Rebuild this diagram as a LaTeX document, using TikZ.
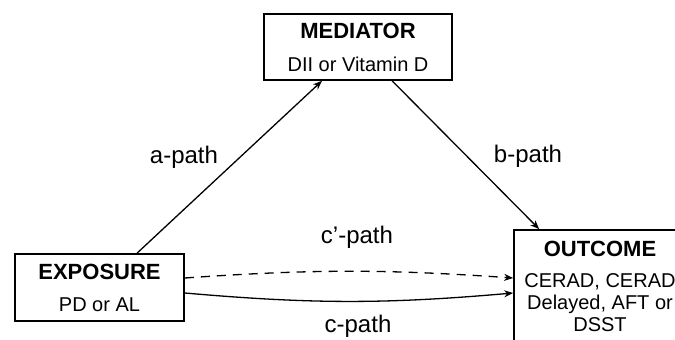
\documentclass[tikz,border=0pt]{standalone}
\usepackage{fontspec}
\setmainfont{Liberation Sans}
\usetikzlibrary{calc,arrows.meta}
\tikzset{
  ar/.style={-{Stealth[length=9pt,width=7pt]},line width=1.3pt},
  box/.style={draw,line width=1.7pt,align=center,inner sep=0pt,font=\fontsize{20}{22}\selectfont},
  lab/.style={font=\fontsize{24}{28}\selectfont}
}
\newcommand{\hd}[1]{{\bfseries\fontsize{22}{24}\selectfont #1}}

\begin{document}
\begin{tikzpicture}[x=1pt,y=1pt]
\clip (0,0) rectangle (675,340);
% the three boxes
\node[box,minimum width=188pt,minimum height=66pt] (med) at (358,293) {\hd{MEDIATOR}\\[11pt]DII or Vitamin D};
\node[box,minimum width=169pt,minimum height=67pt] (exp) at (99.5,52.5) {\hd{EXPOSURE}\\[10pt]PD or AL};
\node[box,minimum width=172pt,minimum height=113pt] (out) at (600,53.5) {\hd{OUTCOME}\\[9pt]CERAD, CERAD\\Delayed, AFT or\\DSST};
% paths
\draw[ar] ($(exp.north west)!0.72!(exp.north east)$) -- ($(med.south west)!0.31!(med.south east)$);
\draw[ar] ($(med.south west)!0.68!(med.south east)$) -- ($(out.north west)!0.15!(out.north east)$);
\draw[ar,dash pattern=on 9pt off 7pt] ([yshift=9.5pt]exp.east) to[bend left=4] ([yshift=8.5pt]out.west);
\draw[ar] ([yshift=-5.5pt]exp.east) to[bend right=5] ([yshift=-6.5pt]out.west);
% labels
\node[lab] (apath) at (184,182.5) {a-path};
\node[lab] (bpath) at (528,184) {b-path};
\node[lab] (cppath) at (357,103) {c’-path};
\node[lab] (cpath) at (358,14) {c-path};
\end{tikzpicture}
\end{document}
